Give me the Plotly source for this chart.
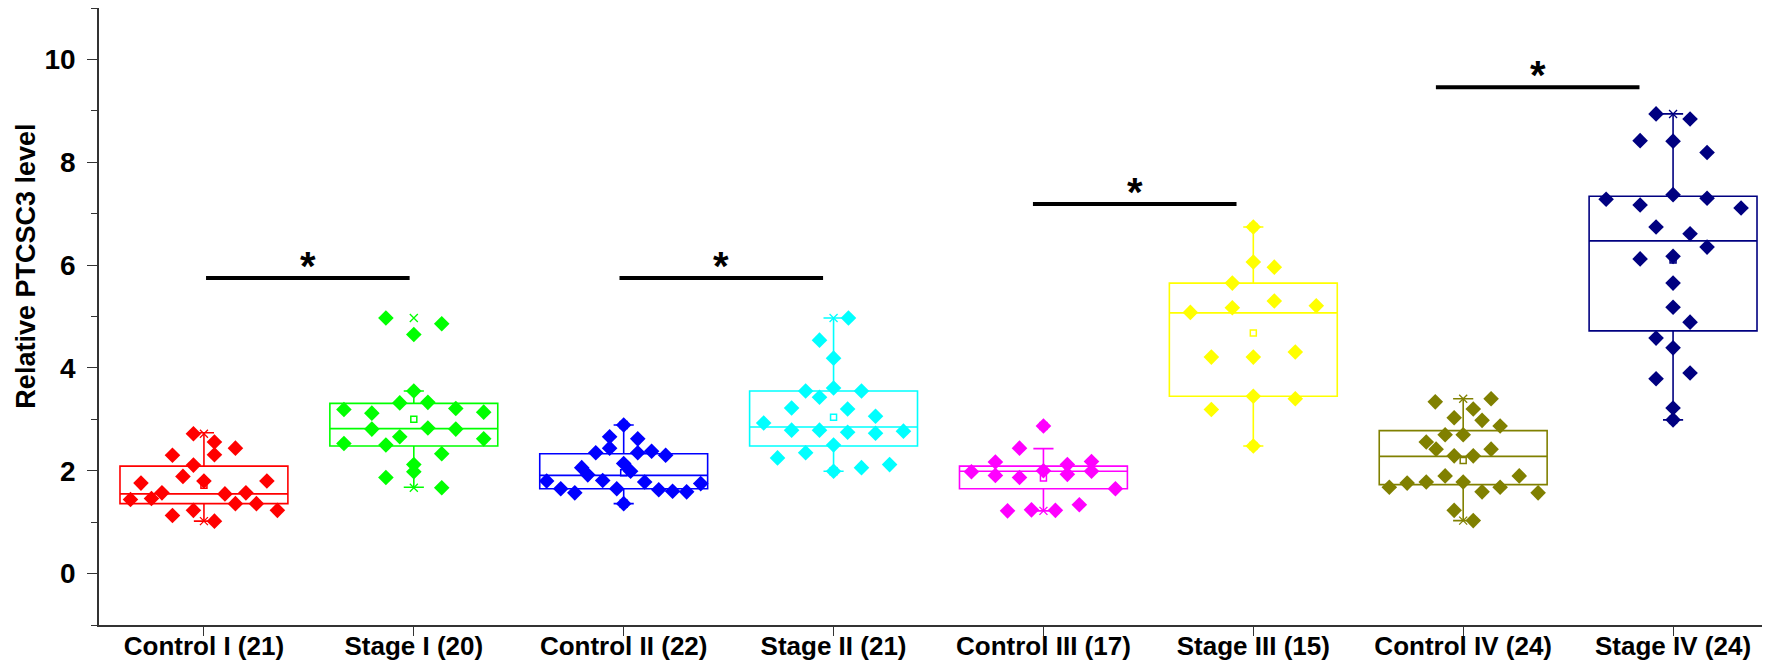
import numpy as np
import plotly.graph_objects as go

# ---------------- data ----------------
categories = ["Control I (21)", "Stage I (20)", "Control II (22)", "Stage II (21)",
              "Control III (17)", "Stage III (15)", "Control IV (24)", "Stage IV (24)"]
colors = ["#FF0000", "#00FF00", "#0000FF", "#00FFFF",
          "#FF00FF", "#FFFF00", "#808000", "#000080"]

ctrl1_vals = [1.44, 1.76, 1.46, 1.57, 2.30, 1.13, 1.89, 2.72, 2.11, 1.23, 1.80,
              2.56, 2.31, 1.02, 1.55, 2.44, 1.36, 1.57, 1.36, 1.80, 1.23]
ctrl1_jit = [-0.35, -0.30, -0.25, -0.20, -0.15, -0.15, -0.10, -0.05, -0.05, -0.05, 0,
             0.05, 0.05, 0.05, 0.10, 0.15, 0.15, 0.20, 0.25, 0.30, 0.35]

stage1_vals = [4.97, 4.86, 4.65, 3.55, 3.32, 3.33, 3.19, 3.12, 3.21, 3.14, 2.81,
               2.83, 2.81, 2.66, 2.62, 2.53, 2.50, 2.33, 2.12, 1.98, 1.87, 1.67]
stage1_jit = [-0.133, 0.133, 0, 0, -0.067, 0.067, -0.333, -0.2, 0.2, 0.333, -0.2,
              0.067, 0.2, -0.067, 0.333, -0.333, -0.133, 0.133, 0, 0, -0.133, 0.133]

ctrl2_vals = [2.89, 2.66, 2.62, 2.44, 2.35, 2.35, 2.38, 2.30, 2.06, 1.92, 2.14, 1.99,
              1.80, 1.81, 1.78, 1.75, 1.65, 1.57, 1.65, 1.63, 1.60, 1.59, 1.36]
ctrl2_jit = [0, -0.067, 0.067, -0.067, -0.133, 0.067, 0.133, 0.2, -0.2, -0.171, 0, 0.033,
             -0.367, -0.1, 0.1, 0.367, -0.3, -0.233, -0.033, 0.167, 0.233, 0.3, 0]

stage2_vals = [4.97, 4.54, 4.19, 3.55, 3.61, 3.55, 3.43, 3.22, 3.20, 3.06, 2.93,
               2.79, 2.79, 2.75, 2.73, 2.77, 2.50, 2.25, 2.35, 1.99, 2.06, 2.12]
stage2_jit = [0.071, -0.067, 0, -0.133, 0, 0.133, -0.067, -0.2, 0.067, 0.2, -0.333,
              -0.2, -0.067, 0.067, 0.2, 0.333, 0, -0.267, -0.133, 0, 0.133, 0.267]

ctrl3_vals = [2.87, 2.44, 2.17, 2.12, 2.18, 1.98, 1.91, 1.87, 2.00, 1.93, 1.99,
              1.65, 1.22, 1.24, 1.23, 1.34]
ctrl3_jit = [0, -0.114, -0.229, 0.114, 0.229, -0.343, -0.229, -0.114, 0, 0.114, 0.229,
             0.343, -0.171, -0.057, 0.057, 0.171]

stage3_vals = [6.74, 6.06, 5.96, 5.65, 5.30, 5.17, 5.08, 5.21, 4.21, 4.21, 4.31,
               3.45, 3.40, 3.19, 2.48]
stage3_jit = [0, 0, 0.1, -0.1, 0.1, -0.1, -0.3, 0.3, -0.2, 0, 0.2, 0, 0.2, -0.2, 0]

ctrl4_vals = [3.34, 3.40, 3.20, 3.03, 2.98, 2.87, 2.70, 2.70, 2.56, 2.42, 2.42, 2.29,
              2.29, 1.90, 1.90, 1.68, 1.76, 1.78, 1.78, 1.68, 1.59, 1.57, 1.23, 1.03]
ctrl4_jit = [-0.133, 0.133, 0.048, -0.043, 0.09, 0.176, -0.086, 0, -0.176, -0.129, 0.133,
             -0.043, 0.048, -0.086, 0.267, -0.352, -0.267, -0.176, 0, 0.176, 0.09, 0.357,
             -0.043, 0.048]

stage4_vals = [8.94, 8.84, 8.42, 8.41, 8.19, 7.28, 7.17, 7.37, 7.30, 7.11, 6.74, 6.61,
               6.35, 6.12, 6.17, 5.65, 5.18, 4.89, 4.58, 4.39, 3.79, 3.90, 3.22, 2.99]
stage4_jit = [-0.081, 0.081, -0.157, 0, 0.162, -0.319, -0.157, 0, 0.162, 0.324, -0.081,
              0.081, 0.162, -0.157, 0, 0, 0, 0.081, -0.081, 0, -0.081, 0.081, 0, 0]

# box statistics as drawn in the reference
box_q1 = [1.36, 2.48, 1.65, 2.48, 1.65, 3.45, 1.73, 4.72]
box_median = [1.55, 2.82, 1.91, 2.85, 1.99, 5.07, 2.28, 6.47]
box_q3 = [2.09, 3.31, 2.33, 3.55, 2.09, 5.65, 2.78, 7.34]
whisker_low = [1.02, 1.68, 1.36, 1.99, 1.22, 2.48, 1.03, 2.99]
whisker_high = [2.74, 3.55, 2.89, 4.97, 2.43, 6.74, 3.40, 8.94]
box_mean = [1.72, 3.00, 1.96, 3.04, 1.86, 4.68, 2.20, 6.10]

# significance brackets: (start category pos, end category pos, height)
sig_start = [1.01, 2.98, 4.95, 6.87]
sig_end = [1.98, 3.95, 5.92, 7.84]
sig_y = [5.75, 5.75, 7.19, 9.46]
sig_label = ["*", "*", "*", "*"]

y_ticks = [0, 2, 4, 6, 8, 10]

all_vals = [ctrl1_vals, stage1_vals, ctrl2_vals, stage2_vals,
            ctrl3_vals, stage3_vals, ctrl4_vals, stage4_vals]
all_jit = [ctrl1_jit, stage1_jit, ctrl2_jit, stage2_jit,
           ctrl3_jit, stage3_jit, ctrl4_jit, stage4_jit]

FONT = "Liberation Sans, Arial, sans-serif"

fig = go.Figure()
positions = list(range(1, len(categories) + 1))

for i, pos in enumerate(positions):
    c = colors[i]
    fig.add_trace(go.Box(
        x=[pos], q1=[box_q1[i]], median=[box_median[i]], q3=[box_q3[i]],
        lowerfence=[whisker_low[i]], upperfence=[whisker_high[i]],
        width=0.8, whiskerwidth=0.12, boxpoints=False,
        line=dict(color=c, width=1.6), fillcolor="rgba(0,0,0,0)",
        showlegend=False, hoverinfo="skip"))
    # mean marker
    fig.add_trace(go.Scatter(
        x=[pos], y=[box_mean[i]], mode="markers",
        marker=dict(symbol="square-open", size=6, color=c, line=dict(width=1.5, color=c)),
        showlegend=False, hoverinfo="skip"))
    # min / max markers
    vals = np.array(all_vals[i])
    fig.add_trace(go.Scatter(
        x=[pos, pos], y=[vals.max(), vals.min()], mode="markers",
        marker=dict(symbol="x-thin", size=8, color=c, line=dict(width=1.3, color=c)),
        showlegend=False, hoverinfo="skip"))
    # data points
    xs = pos + np.array(all_jit[i])
    fig.add_trace(go.Scatter(
        x=xs, y=vals, mode="markers",
        marker=dict(symbol="diamond", size=12, color=c, line=dict(width=0)),
        showlegend=False, hoverinfo="skip"))

for s, e, h, lab in zip(sig_start, sig_end, sig_y, sig_label):
    fig.add_shape(type="line", xref="x", yref="y", x0=s, x1=e, y0=h, y1=h,
                  line=dict(color="black", width=4))
    fig.add_annotation(x=(s + e) / 2, y=h, xref="x", yref="y", text="<b>%s</b>" % lab,
                       showarrow=False, yanchor="bottom", yshift=-12,
                       font=dict(family=FONT, size=40, color="black"))

# y-axis title as an annotation (positioned like the reference)
fig.add_annotation(x=0, y=5.97, xref="paper", yref="y", text="<b>Relative PTCSC3 level</b>",
                   textangle=-90, showarrow=False, xanchor="center", yanchor="middle",
                   xshift=-73, font=dict(family=FONT, size=27, color="black"))

fig.update_layout(
    width=1770, height=669,
    margin=dict(l=91, r=0, t=0, b=52),
    paper_bgcolor="white", plot_bgcolor="white",
    boxmode="overlay",
    showlegend=False,
)
fig.update_xaxes(
    range=[0.5, 8.5], tickmode="array", tickvals=positions, ticktext=categories,
    showline=True, linecolor="#333", linewidth=1.6, mirror=False,
    ticks="outside", ticklen=9, tickwidth=1.3, tickcolor="#333",
    showgrid=False, zeroline=False, ticklabelstandoff=-12,
    tickfont=dict(family=FONT, size=26, color="black", weight="bold"),
)
fig.update_yaxes(
    range=[-1, 11], tickmode="array", tickvals=y_ticks,
    showline=True, linecolor="#333", linewidth=1.6,
    ticks="outside", ticklen=10, tickwidth=1.3, tickcolor="#333",
    minor=dict(ticks="outside", ticklen=6, tickwidth=1.3, tickcolor="#333", dtick=1, tick0=-1),
    showgrid=False, zeroline=False, ticklabelstandoff=6,
    tickfont=dict(family=FONT, size=28, color="black", weight="bold"),
)

fig.write_html("out.html")
